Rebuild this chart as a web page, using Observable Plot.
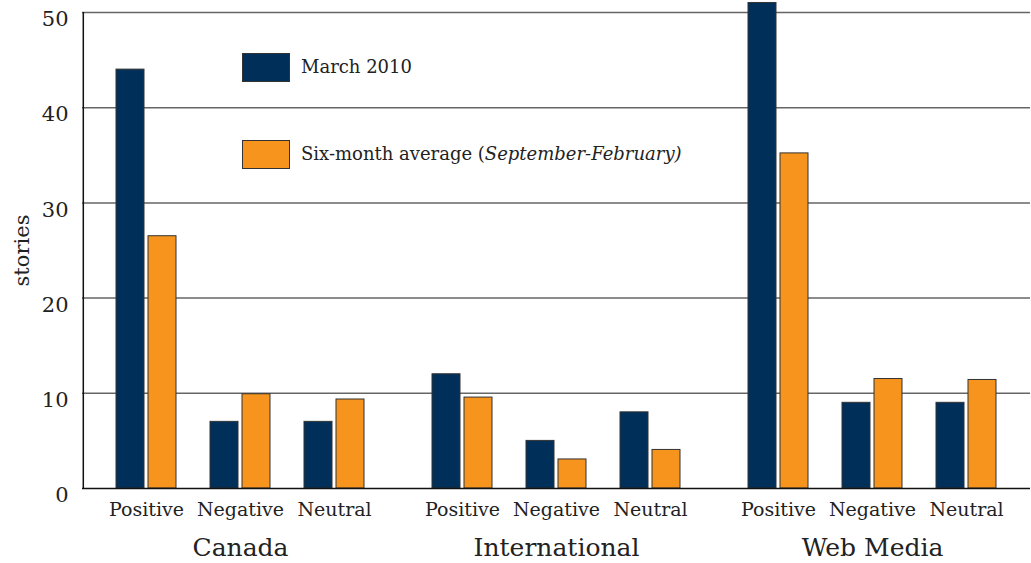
<!DOCTYPE html>
<html>
<head>
<meta charset="utf-8">
<script src="https://cdn.jsdelivr.net/npm/d3@7"></script>
<script src="https://cdn.jsdelivr.net/npm/@observablehq/plot@0.6"></script>
<style>
  body { margin: 0; background: #fff; }
  #wrap { position: relative; width: 1031px; height: 563px; font-family: "DejaVu Serif", serif; }
  .sw { position: absolute; width: 46px; height: 27px; border: 1px solid #333; }
  .lt { position: absolute; font-size: 18px; color: #222; line-height: 1; }
</style>
</head>
<body>
<div id="wrap"></div>
<script>
const groups = ["Canada", "International", "Web Media"];
const categories = ["Positive", "Negative", "Neutral"];
const march2010 = [44, 7, 7, 12, 5, 8, 51, 9, 9];
const sixMonthAvg = [26.5, 9.9, 9.35, 9.55, 3.05, 4.05, 35.2, 11.5, 11.4];
const seriesNames = ["March 2010", "Six-month average"];
const colors = ["#00305a", "#f7941e"];
const yTicks = [0, 10, 20, 30, 40, 50];

const rows = [];
groups.forEach((g, gi) => categories.forEach((c, ci) => {
  const i = gi * 3 + ci;
  rows.push({group: g, category: c, series: seriesNames[0], value: march2010[i]});
  rows.push({group: g, category: c, series: seriesNames[1], value: sixMonthAvg[i]});
}));

const font = "DejaVu Serif, serif";
const chart = Plot.plot({
  width: 1031,
  height: 563,
  marginLeft: 82,
  marginRight: 0,
  marginTop: 12,
  marginBottom: 75,
  style: {fontFamily: font, color: "#222", background: "#fff", overflow: "visible"},
  fx: {domain: groups, paddingInner: 0.1, paddingOuter: 0.05, label: null},
  x: {domain: categories, paddingInner: 0.36, paddingOuter: 0.18, label: null},
  y: {domain: [0, 50], label: null},
  color: {domain: seriesNames, range: colors},
  marks: [
    Plot.ruleY(yTicks.filter(d => d > 0), {y: d => d, stroke: "#666", strokeWidth: 1.5, insetLeft: -16, insetRight: -16}),
    Plot.barY(rows.filter(d => d.series === seriesNames[0]), {fx: "group", x: "category", y: "value", fill: "series", stroke: "#333", strokeWidth: 1, insetRight: 32}),
    Plot.barY(rows.filter(d => d.series === seriesNames[1]), {fx: "group", x: "category", y: "value", fill: "series", stroke: "#333", strokeWidth: 1, insetLeft: 32}),
    Plot.ruleY([0], {stroke: "#111", strokeWidth: 1.5, insetLeft: -16, insetRight: -16}),
    Plot.ruleX([{fx: groups[0], x: categories[0]}], {fx: "fx", x: "x", y1: 0, y2: 50, dx: -63.2, stroke: "#111", strokeWidth: 1.5}),
    Plot.axisY({ticks: yTicks, tickSize: 0, tickPadding: 30, dy: 7, fontSize: 21, label: "stories", labelAnchor: "center", labelArrow: "none", labelOffset: 84}),
    Plot.axisX({tickSize: 0, tickPadding: 14, fontSize: 19}),
    Plot.axisFx({anchor: "bottom", tickSize: 0, tickPadding: 50, fontSize: 25, label: null})
  ]
});
const wrap = document.getElementById("wrap");
wrap.appendChild(chart);

const legend = [
  {top: 53, html: seriesNames[0]},
  {top: 140, html: 'Six-month average (<i>September-February)</i>'}
];
legend.forEach((l, i) => {
  const sw = document.createElement("div");
  sw.className = "sw";
  sw.style.left = "242px";
  sw.style.top = l.top + "px";
  sw.style.background = colors[i];
  wrap.appendChild(sw);
  const t = document.createElement("div");
  t.className = "lt";
  t.style.left = "301px";
  t.style.top = (l.top + 5) + "px";
  t.innerHTML = l.html;
  wrap.appendChild(t);
});
</script>
</body>
</html>
